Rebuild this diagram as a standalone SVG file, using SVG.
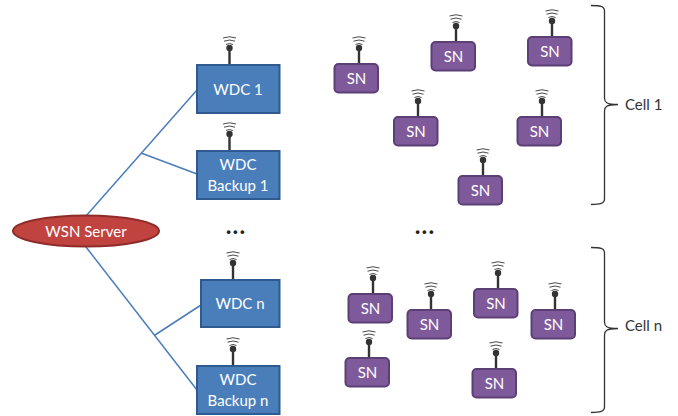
<svg xmlns="http://www.w3.org/2000/svg" width="678" height="416" viewBox="0 0 678 416">
<style>
text{font-family:Lato,"Open Sans","Liberation Sans",sans-serif;font-size:15px;text-anchor:middle;fill:#fff}
.dark{fill:#333;text-anchor:start;font-size:15px}
.dots{fill:#222;font-weight:bold;font-size:24px;letter-spacing:1.2px}
.wdc{fill:#4a7ebb;stroke:#2f5a90;stroke-width:2}
.sn{fill:#7f5a9a;stroke:#5c3f75;stroke-width:2}
.srv{fill:#c0433f;stroke:#8e2c2a;stroke-width:2}
.link{stroke:#4a7ebb;stroke-width:1.5;fill:none}
.br{stroke:#333;stroke-width:1.3;fill:none}
</style>
<defs>
<g id="ant">
<path d="M0 17V0" stroke="#333" stroke-width="2.4" fill="none"/>
<circle cx="0" cy="0" r="3.2" fill="#333"/>
<path d="M-3.5 -3.5Q0 -5.5 3.5 -3.5M-5.5 -6.8Q0 -9.2 5.5 -6.8M-6.5 -10Q0 -12.5 6.5 -10" stroke="#333" stroke-width="0.9" fill="none"/>
</g>
</defs>
<g id="connectors">
<path class="link" d="M86 216L197 90M141 153L197 174M86 247L197 390M155 335L201 305"/>
</g>
<g id="server"><ellipse class="srv" cx="86" cy="231" rx="73" ry="15.5"/><text x="86" y="237">WSN Server</text></g>
<g id="wdc1"><use href="#ant" x="229.5" y="48"/><rect class="wdc" x="197" y="65" width="82.5" height="48"/><text x="238" y="95">WDC 1</text></g>
<g id="wdcb1"><use href="#ant" x="229.5" y="134"/><rect class="wdc" x="197" y="151" width="82.5" height="48"/><text x="238" y="170">WDC</text><text x="238" y="191">Backup 1</text></g>
<g id="wdcn"><use href="#ant" x="233" y="263"/><rect class="wdc" x="201" y="280" width="78.5" height="47"/><text x="240" y="309">WDC n</text></g>
<g id="wdcbn"><use href="#ant" x="233" y="349"/><rect class="wdc" x="197" y="366" width="82.5" height="48"/><text x="238" y="385">WDC</text><text x="238" y="406">Backup n</text></g>
<g id="sn1"><use href="#ant" x="359" y="48"/><rect class="sn" x="334.500" y="64" width="43.500" height="28.500" rx="4"/><text x="356.500" y="84">SN</text></g>
<g id="sn2"><use href="#ant" x="456" y="26"/><rect class="sn" x="431.500" y="42" width="43.500" height="28.500" rx="4"/><text x="453.500" y="62">SN</text></g>
<g id="sn3"><use href="#ant" x="552" y="21"/><rect class="sn" x="528" y="37" width="43.500" height="28.500" rx="4"/><text x="550" y="57">SN</text></g>
<g id="sn4"><use href="#ant" x="418" y="101"/><rect class="sn" x="394" y="117" width="43.500" height="28.500" rx="4"/><text x="416" y="137">SN</text></g>
<g id="sn5"><use href="#ant" x="542" y="101"/><rect class="sn" x="517.500" y="117" width="43.500" height="28.500" rx="4"/><text x="539.500" y="137">SN</text></g>
<g id="sn6"><use href="#ant" x="483" y="160"/><rect class="sn" x="458.500" y="176" width="43.500" height="28.500" rx="4"/><text x="480.500" y="196">SN</text></g>
<g id="sn7"><use href="#ant" x="373" y="278"/><rect class="sn" x="348.500" y="294" width="43.500" height="28.500" rx="4"/><text x="370.500" y="314">SN</text></g>
<g id="sn8"><use href="#ant" x="498" y="273"/><rect class="sn" x="474" y="289" width="43.500" height="28.500" rx="4"/><text x="496" y="309">SN</text></g>
<g id="sn9"><use href="#ant" x="431" y="294"/><rect class="sn" x="407.500" y="310" width="43.500" height="28.500" rx="4"/><text x="429.500" y="330">SN</text></g>
<g id="sn10"><use href="#ant" x="555" y="294"/><rect class="sn" x="531.500" y="310" width="43.500" height="28.500" rx="4"/><text x="553.500" y="330">SN</text></g>
<g id="sn11"><use href="#ant" x="369" y="342"/><rect class="sn" x="345.500" y="358" width="43.500" height="28.500" rx="4"/><text x="367.500" y="378">SN</text></g>
<g id="sn12"><use href="#ant" x="496" y="353"/><rect class="sn" x="472.500" y="369" width="43.500" height="28.500" rx="4"/><text x="494.500" y="389">SN</text></g>
<g id="cell1"><path class="br" d="M591 5.500C600 5.500 604.500 6 604.500 11V98C604.500 102 606 104.500 618 104.500C606 104.500 604.500 107 604.500 111V199C604.500 203.500 600 204.500 591 204.500"/><text class="dark" x="625" y="110">Cell 1</text></g>
<g id="celln"><path class="br" d="M591 247.500C600 247.500 604.500 248 604.500 253V322C604.500 326 606 328.500 618 328.500C606 328.500 604.500 331 604.500 335V407C604.500 411.500 600 412.500 591 412.500"/><text class="dark" x="625" y="331">Cell n</text></g>
<text class="dots" x="236" y="234">...</text>
<text class="dots" x="425" y="234">...</text>
</svg>
